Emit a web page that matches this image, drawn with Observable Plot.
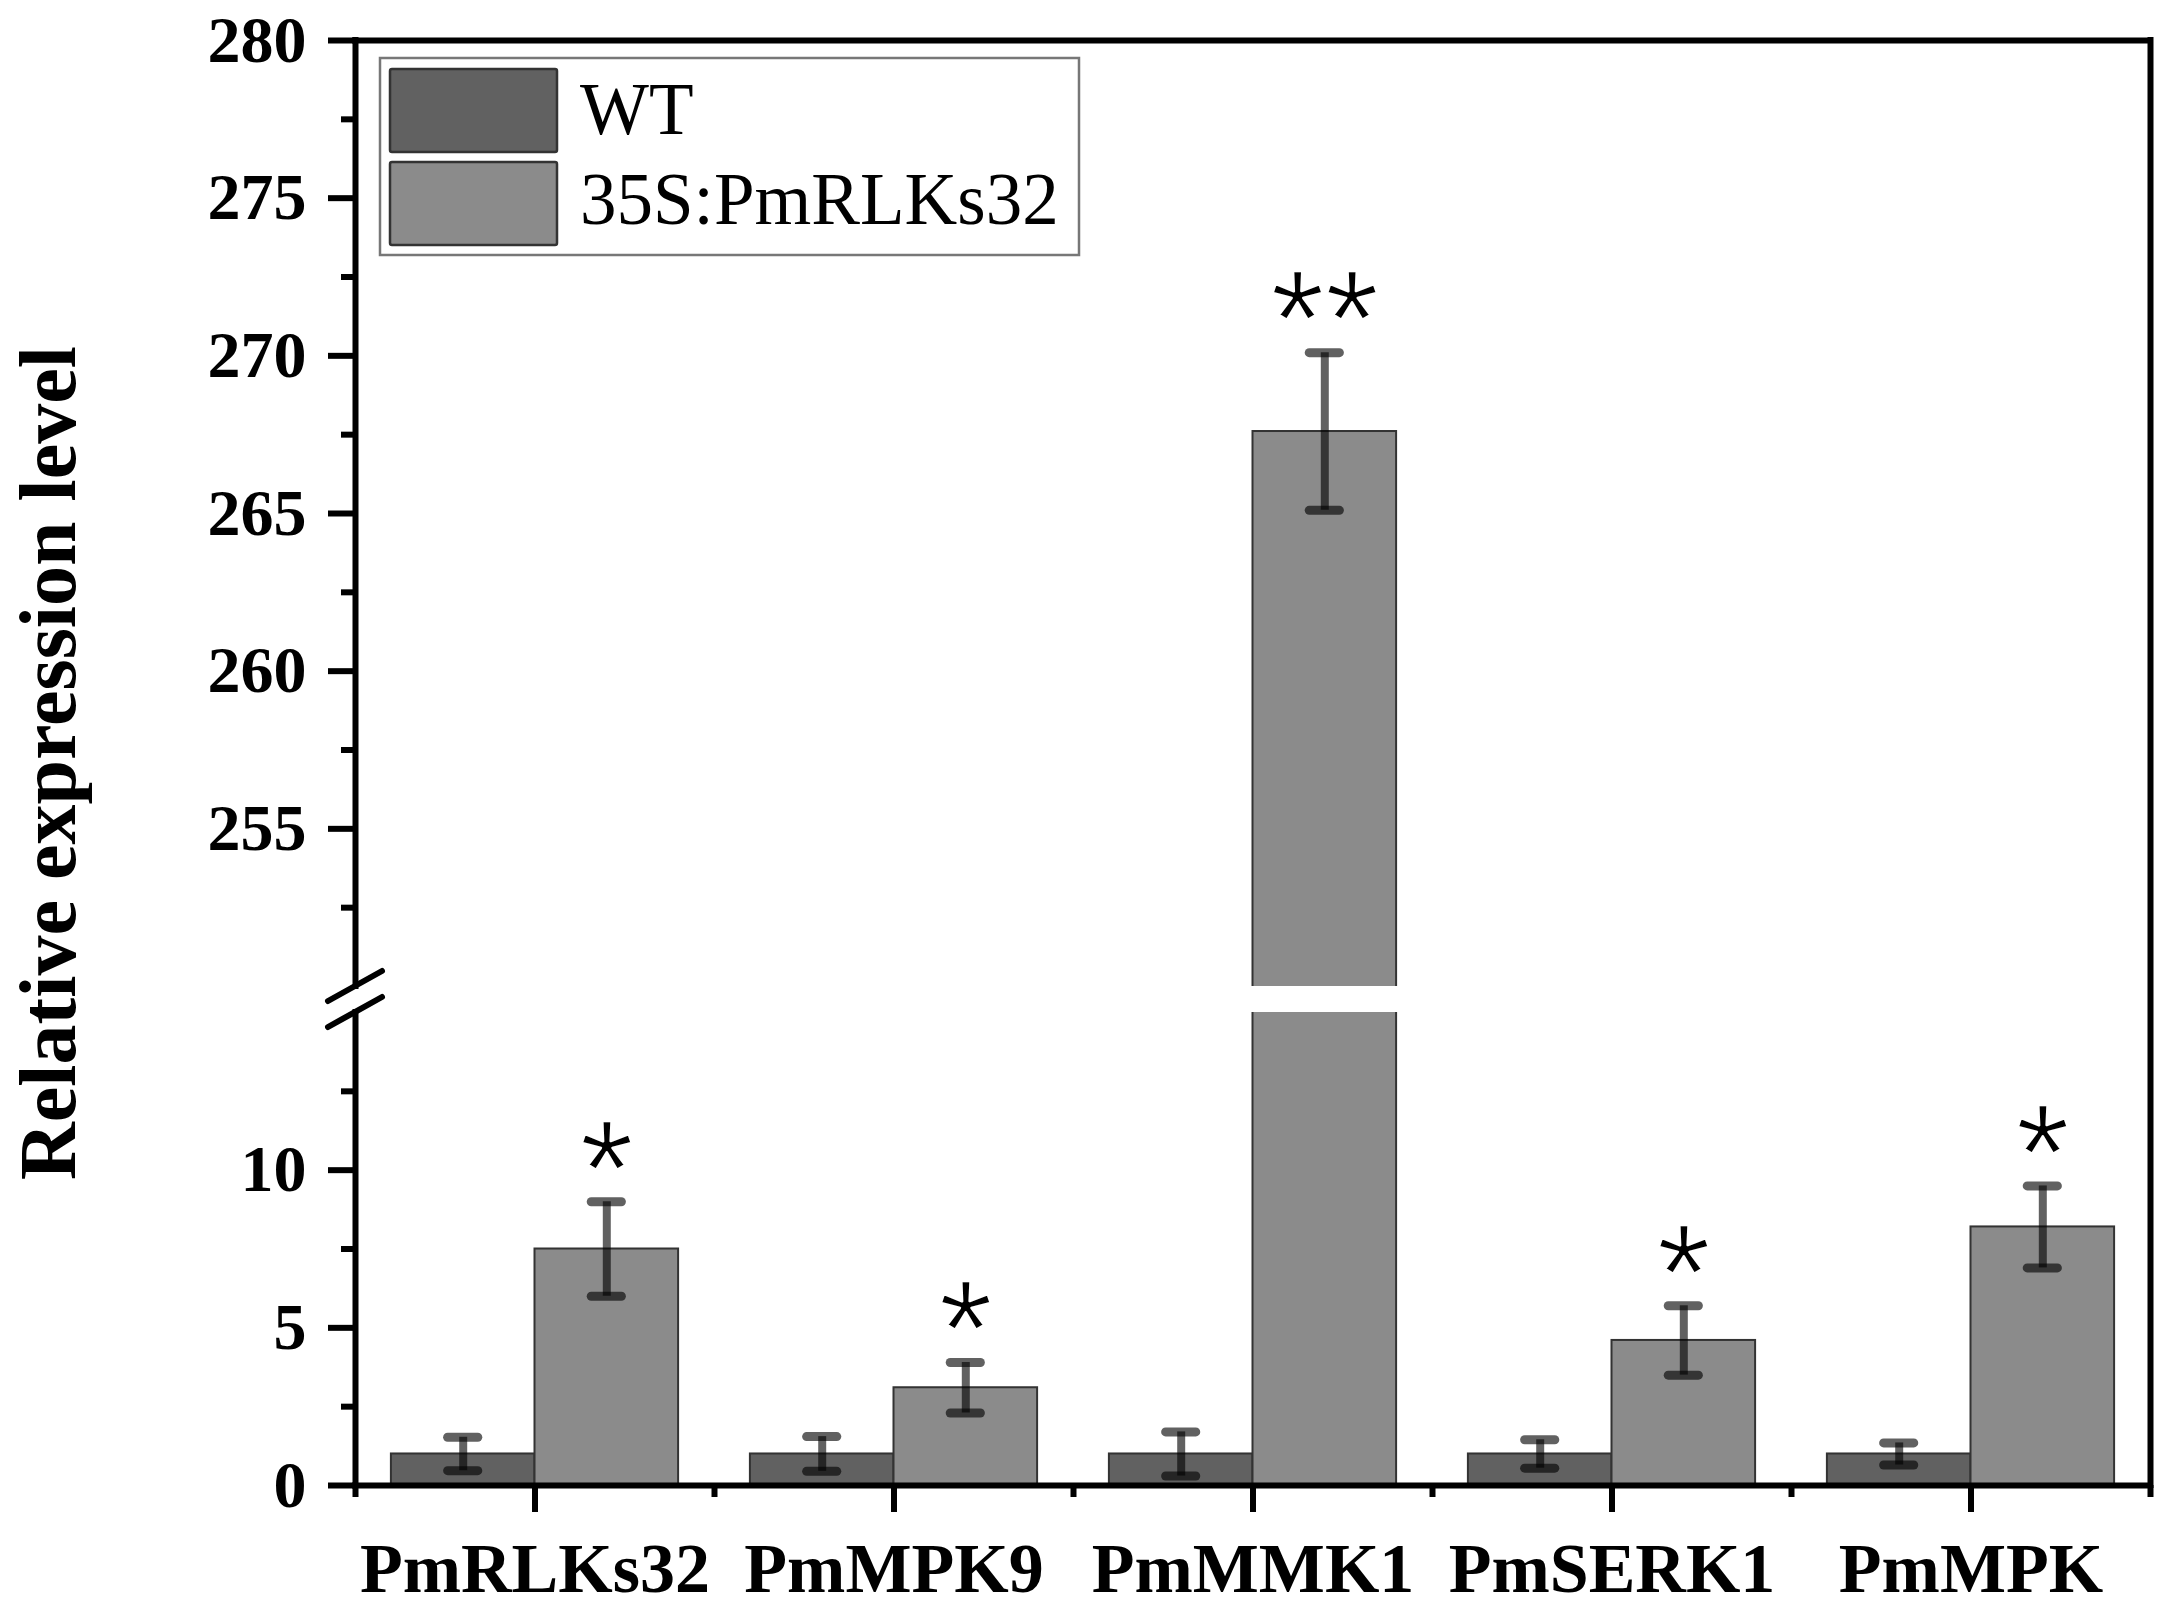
<!DOCTYPE html>
<html><head><meta charset="utf-8">
<script src="https://cdn.jsdelivr.net/npm/d3@7"></script>
<script src="https://cdn.jsdelivr.net/npm/@observablehq/plot@0.6"></script>
<style>html,body{margin:0;padding:0;background:#fff;}</style>
</head><body><div id="chart"></div>
<script>
const genes = ["PmRLKs32", "PmMPK9", "PmMMK1", "PmSERK1", "PmMPK"];
const groups = ["WT", "35S:PmRLKs32"];
const wtMean = [1.0, 1.0, 1.0, 1.0, 1.0];
const wtErr = [0.53, 0.55, 0.70, 0.45, 0.35];
const tgMean = [7.5, 3.1, 267.6, 4.6, 8.2];
const tgErr = [1.5, 0.8, 2.5, 1.1, 1.3];
const signif = ["*", "*", "**", "*", "*"];
const yMajorTicks = [0, 5, 10, 255, 260, 265, 270, 275, 280];
const yMinorTicks = [2.5, 7.5, 12.5, 252.5, 257.5, 262.5, 267.5, 272.5, 277.5];
const xMajorTicks = [1, 2, 3, 4, 5];
const xMinorTicks = [0.5, 1.5, 2.5, 3.5, 4.5, 5.5];
const yBreak = [15, 250];
const yLimits = [0, 280];
const yTitle = "Relative expression level";
const colors = ["#616161", "#8b8b8b"];

const W = 2168, H = 1603;
const BW = 0.4; // bar width in group units
const rows = [];
genes.forEach((g, i) => {
  const c = i + 1;
  rows.push({gene: g, group: groups[0], x1: c - BW, x2: c, cx: c - BW / 2, mean: wtMean[i], err: wtErr[i], sig: ""});
  rows.push({gene: g, group: groups[1], x1: c, x2: c + BW, cx: c + BW / 2, mean: tgMean[i], err: tgErr[i], sig: signif[i]});
});
const capHalf = 0.042;
const serif = "'Liberation Serif', 'Times New Roman', serif";
const lw = 6;
const errStyle = {stroke: "#000", strokeOpacity: 0.62};

const chart = Plot.plot({
  width: W, height: H,
  marginLeft: 355, marginRight: 18, marginTop: 40, marginBottom: 118,
  x: {type: "linear", domain: [xMinorTicks[0], xMinorTicks[xMinorTicks.length - 1]], range: [355, 2150], axis: null},
  y: {type: "linear", domain: [yLimits[0], yBreak[0], yBreak[1], yLimits[1]], range: [1485, 1012, 986, 40], axis: null},
  color: {domain: groups, range: colors},
  style: {fontFamily: serif, background: "#fff", overflow: "visible", color: "#000"},
  marks: [
    Plot.rectY(rows, {x1: "x1", x2: "x2", y1: 0, y2: "mean", fill: "group", stroke: "#333", strokeWidth: 2}),
    Plot.rect([yBreak], {x1: xMinorTicks[0], x2: xMinorTicks[xMinorTicks.length - 1], y1: d => d[0], y2: d => d[1], fill: "#fff"}),
    Plot.ruleX(rows, {x: "cx", y1: d => d.mean - d.err, y2: d => d.mean + d.err, ...errStyle, strokeWidth: 8}),
    Plot.ruleY(rows, {y: d => d.mean + d.err, x1: d => d.cx - capHalf, x2: d => d.cx + capHalf, ...errStyle, strokeWidth: 9, strokeLinecap: "round"}),
    Plot.ruleY(rows, {y: d => d.mean - d.err, x1: d => d.cx - capHalf, x2: d => d.cx + capHalf, ...errStyle, strokeWidth: 9, strokeLinecap: "round"}),
    Plot.text(rows.filter(d => d.sig), {x: "cx", y: d => d.mean + d.err, text: "sig", dy: -30, fontSize: 140, fontFamily: "'Liberation Sans', Arial, sans-serif", fill: "#000", stroke: "#fff", strokeWidth: 2.5, paintOrder: "normal"}),
    // frame
    Plot.ruleY([yLimits[0], yLimits[1]], {x1: xMinorTicks[0], x2: xMinorTicks[xMinorTicks.length - 1], stroke: "#000", strokeWidth: lw, strokeLinecap: "square"}),
    Plot.ruleX([xMinorTicks[xMinorTicks.length - 1]], {y1: yLimits[0], y2: yLimits[1], stroke: "#000", strokeWidth: lw, strokeLinecap: "square"}),
    Plot.ruleX([[yLimits[0], yBreak[0]], [yBreak[1], yLimits[1]]], {x: () => xMinorTicks[0], y1: d => d[0], y2: d => d[1], stroke: "#000", strokeWidth: lw, strokeLinecap: "square"}),
    // axes
    Plot.axisY(yMajorTicks, {anchor: "left", tickSize: 27, tickPadding: 22, strokeWidth: lw, fontSize: 66, fontWeight: "bold", fontFamily: serif, label: null}),
    Plot.axisY(yMinorTicks, {anchor: "left", tickSize: 14, strokeWidth: lw, tickFormat: () => "", label: null}),
    Plot.axisX(xMajorTicks, {anchor: "bottom", tickSize: 27, tickPadding: 30, strokeWidth: lw, fontSize: 70, fontWeight: "bold", fontFamily: serif, tickFormat: d => genes[d - 1], label: null}),
    Plot.axisX(xMinorTicks, {anchor: "bottom", tickSize: 12, strokeWidth: lw, tickFormat: () => "", label: null}),
    Plot.text([yTitle], {frameAnchor: "left", textAnchor: "middle", dx: -306, rotate: -90, fontSize: 80, fontWeight: "bold", fontFamily: serif, fill: "#000"})
  ]
});
document.getElementById("chart").appendChild(chart);

// axis-break slashes
const svg = d3.select(chart);
const ys = chart.scale("y"), xs = chart.scale("x");
const ax = xs.apply(xMinorTicks[0]);
[ys.apply(yBreak[1]), ys.apply(yBreak[0])].forEach(cy => {
  svg.append("line").attr("x1", ax - 27).attr("y1", cy + 15).attr("x2", ax + 27).attr("y2", cy - 15)
    .attr("stroke", "#000").attr("stroke-width", lw).attr("stroke-linecap", "round");
});

// legend
const lg = svg.append("g");
lg.append("rect").attr("x", 380).attr("y", 58).attr("width", 699).attr("height", 197)
  .attr("fill", "#fff").attr("stroke", "#777").attr("stroke-width", 2.5);
groups.forEach((g, i) => {
  const y0 = 69 + i * 93;
  lg.append("rect").attr("x", 390).attr("y", y0).attr("width", 167).attr("height", 83).attr("rx", 2)
    .attr("fill", colors[i]).attr("stroke", "#333").attr("stroke-width", 2.5);
  lg.append("text").attr("x", 580).attr("y", 134 + i * 90).attr("font-family", serif)
    .attr("text-anchor", "start").attr("font-size", 73).attr("fill", "#000").text(g);
});
</script>
</body></html>
